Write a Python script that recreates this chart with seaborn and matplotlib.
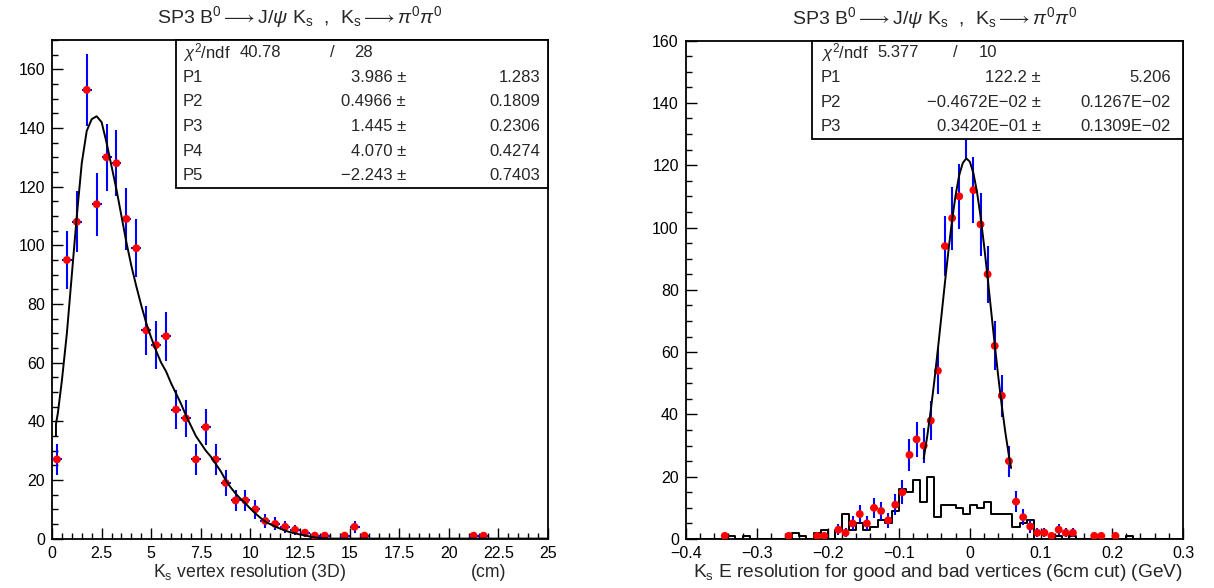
import numpy as np
import pandas as pd
import matplotlib
matplotlib.use("Agg")
import matplotlib.pyplot as plt
from matplotlib.patches import Rectangle
from matplotlib.ticker import MultipleLocator, FixedLocator, FixedFormatter
import seaborn as sns

# ---------------- data ----------------
# Left: Ks vertex resolution (3D), bin width 0.5 cm
left_x = [0.25, 0.75, 1.25, 1.75, 2.25, 2.75, 3.25, 3.75, 4.25, 4.75, 5.25, 5.75,
          6.25, 6.75, 7.25, 7.75, 8.25, 8.75, 9.25, 9.75, 10.25, 10.75, 11.25,
          11.75, 12.25, 12.75, 13.25, 13.75, 14.75, 15.25, 15.75, 21.25, 21.75]
left_n = [27, 95, 108, 153, 114, 130, 128, 109, 99, 71, 66, 69,
          44, 41, 27, 38, 27, 19, 13, 13, 10, 6, 5,
          4, 3, 2, 1, 1, 1, 4, 1, 1, 1]
left_halfbin = 0.25

# Left fit curve
left_fit_x = [0.2, 0.2, 0.3, 0.5, 0.75, 1.0, 1.25, 1.5, 1.75, 2.0, 2.25, 2.5, 2.75,
              3.0, 3.25, 3.5, 3.75, 4.0, 4.25, 4.5, 4.75, 5.0, 5.25, 5.5, 5.75,
              6.0, 6.25, 6.5, 6.75, 7.0, 7.25, 7.5, 7.75, 8.0, 8.25, 8.5, 8.75,
              9.0, 9.25, 9.5, 9.75, 10.0, 10.25, 10.5, 10.75, 11.0, 11.25, 11.5,
              11.75, 12.0, 12.25, 12.5, 12.75, 13.0, 13.25, 13.5, 14.0, 25.0]
left_fit_y = [35, 39, 43, 54, 70, 90, 110, 128, 139, 143, 144, 142, 135,
              127, 119, 110, 101, 93, 86, 79.5, 73.5, 68.5, 64, 60, 57,
              53, 49.5, 46, 42, 38.5, 35, 32.5, 30, 28, 25.5, 23, 20,
              17.5, 15.4, 13.6, 12, 10.2, 8.6, 7.1, 5.8, 4.9, 4.1, 3.4,
              2.7, 2.2, 1.8, 1.4, 1.1, 0.7, 0.4, 0.2, 0.0, 0.0]

# Right: Ks E resolution, bin width 0.01 GeV (points)
right_x = [-0.345, -0.255, -0.215, -0.205, -0.185, -0.175, -0.165, -0.155, -0.145,
           -0.135, -0.125, -0.115, -0.105, -0.095, -0.085, -0.075, -0.065, -0.055,
           -0.045, -0.035, -0.025, -0.015, -0.005, 0.005, 0.015, 0.025, 0.035,
           0.045, 0.055, 0.065, 0.075, 0.085, 0.095, 0.105, 0.115, 0.125, 0.135,
           0.145, 0.175, 0.185, 0.205]
right_n = [1, 1, 1, 1, 3, 2, 5, 8, 5,
           10, 9, 6, 11, 15, 27, 32, 30, 38,
           54, 94, 103, 110, 134, 112, 101, 85, 62,
           46, 25, 12, 7, 4, 2, 2, 1, 3, 2,
           2, 1, 1, 1]
right_halfbin = 0.005

# Right: bad-vertex histogram (black step line)
hist_x = [-0.335, -0.315, -0.245, -0.235, -0.215, -0.205, -0.185, -0.175, -0.165,
          -0.155, -0.145, -0.135, -0.125, -0.115, -0.105, -0.095, -0.085, -0.075,
          -0.065, -0.055, -0.045, -0.035, -0.025, -0.015, -0.005, 0.005, 0.015,
          0.025, 0.035, 0.045, 0.055, 0.065, 0.075, 0.085, 0.125, 0.145, 0.225]
hist_n = [1, 1, 2, 1, 2, 3, 3, 8, 3,
          5, 3, 4, 6, 5, 9, 16, 15, 19,
          12, 20, 7, 11, 11, 10, 8, 11, 10,
          12, 8, 8, 8, 4, 5, 6, 1, 1, 1]

# Right Gaussian fit curve (values read / from displayed fit)
right_fit_x = [-0.065, -0.060, -0.055, -0.050, -0.045, -0.040, -0.035, -0.030,
               -0.025, -0.020, -0.015, -0.010, -0.005, 0.000, 0.005, 0.010,
               0.015, 0.020, 0.025, 0.030, 0.035, 0.040, 0.045, 0.050, 0.055,
               0.058]
right_fit_y = [25.8, 33.0, 41.4, 50.8, 61.0, 71.7, 82.5, 92.9,
               102.4, 110.5, 116.8, 120.7, 122.2, 121.1, 117.4, 111.5,
               103.6, 94.2, 83.9, 73.1, 62.4, 52.1, 42.6, 34.1, 26.7,
               22.8]

title_txt = r"SP3 B$^{0}$$\longrightarrow$J/$\psi$ K$_{\rm s}$  ,  K$_{\rm s}$$\longrightarrow$$\pi^{0}\pi^{0}$"
left_stats = [("P1", "3.986 \u00b1", "1.283"),
              ("P2", "0.4966 \u00b1", "0.1809"),
              ("P3", "1.445 \u00b1", "0.2306"),
              ("P4", "4.070 \u00b1", "0.4274"),
              ("P5", "\u22122.243 \u00b1", "0.7403")]
right_stats = [("P1", "122.2 \u00b1", "5.206"),
               ("P2", "\u22120.4672E\u221202 \u00b1", "0.1267E\u221202"),
               ("P3", "0.3420E\u221201 \u00b1", "0.1309E\u221202")]

# ---------------- style ----------------
sns.set_theme(style="white")
plt.rcParams["font.family"] = ["Liberation Sans", "DejaVu Sans"]
plt.rcParams["mathtext.fontset"] = "custom"
plt.rcParams["mathtext.rm"] = "Liberation Sans"
plt.rcParams["mathtext.it"] = "Liberation Sans:italic"
plt.rcParams["axes.linewidth"] = 1.3
plt.rcParams["axes.edgecolor"] = "black"

W, H = 1214, 588
fig = plt.figure(figsize=(W / 100, H / 100), dpi=100)
fig.patch.set_facecolor("white")

ax1 = fig.add_axes([52 / W, 1 - 538.6 / H, 496 / W, 498.6 / H])
ax2 = fig.add_axes([685.7 / W, 1 - 539 / H, 497.3 / W, 498.4 / H])

ldf = pd.DataFrame({"x": left_x, "n": left_n})
rdf = pd.DataFrame({"x": right_x, "n": right_n})


def draw_points(ax, df, halfbin):
    ax.errorbar(df["x"], df["n"], yerr=np.sqrt(df["n"]), xerr=halfbin,
                fmt="none", ecolor=(0, 0, 1), elinewidth=1.5, capsize=0, zorder=3)
    sns.scatterplot(data=df, x="x", y="n", ax=ax, color=(1, 0, 0), s=32,
                    edgecolor="none", linewidth=0, zorder=4, legend=False)


# Left panel
draw_points(ax1, ldf, left_halfbin)
sns.lineplot(x=left_fit_x, y=left_fit_y, ax=ax1, color="black", linewidth=1.4,
             sort=False, estimator=None, zorder=5)
ax1.set_xlim(0, 25)
ax1.set_ylim(0, 170)

# Right panel
sns.histplot(x=hist_x, weights=hist_n, bins=70, binrange=(-0.4, 0.3),
             element="step", fill=False, color="black", linewidth=1.4, ax=ax2, zorder=2)
draw_points(ax2, rdf, right_halfbin)
sns.lineplot(x=right_fit_x, y=right_fit_y, ax=ax2, color="black", linewidth=1.4,
             sort=False, estimator=None, zorder=5)
ax2.set_xlim(-0.4, 0.3)
ax2.set_ylim(0, 160)

for ax in (ax1, ax2):
    ax.set_xlabel("")
    ax.set_ylabel("")
    ax.set_facecolor("white")
    for s in ax.spines.values():
        s.set_visible(True)
        s.set_color("black")
        s.set_linewidth(1.3)
    ax.yaxis.set_major_locator(MultipleLocator(20))
    ax.yaxis.set_minor_locator(MultipleLocator(5))
    ax.tick_params(which="both", direction="in", left=True, bottom=True,
                   right=False, top=False, labelsize=11.5, colors="black")
    ax.tick_params(which="major", length=8, width=1.0, pad=5)
    ax.tick_params(which="minor", length=4, width=1.0)
    ax.set_title(title_txt, fontsize=14, pad=12)
    ax.grid(False)

ax1.xaxis.set_major_locator(FixedLocator([0, 2.5, 5, 7.5, 10, 12.5, 15, 17.5, 20, 22.5, 25]))
ax1.xaxis.set_major_formatter(FixedFormatter(["0", "2.5", "5", "7.5", "10", "12.5", "15",
                                              "17.5", "20", "22.5", "25"]))
ax1.xaxis.set_minor_locator(MultipleLocator(0.5))

ax2.xaxis.set_major_locator(FixedLocator([-0.4, -0.3, -0.2, -0.1, 0, 0.1, 0.2, 0.3]))
ax2.xaxis.set_major_formatter(FixedFormatter(["\u22120.4", "\u22120.3", "\u22120.2", "\u22120.1",
                                              "0", "0.1", "0.2", "0.3"]))
ax2.xaxis.set_minor_locator(MultipleLocator(0.02))

# x labels
ax1.text(0.204, -0.068, r"K$_{\rm s}$ vertex resolution (3D)", transform=ax1.transAxes,
         ha="left", va="center", fontsize=12.7)
ax1.text(0.916, -0.068, "(cm)", transform=ax1.transAxes, ha="right", va="center", fontsize=12.7)
ax2.text(1.0, -0.068, r"K$_{\rm s}$ E resolution for good and bad vertices (6cm cut) (GeV)",
         transform=ax2.transAxes, ha="right", va="center", fontsize=13.8)


def stats_box(ax, x0, y0, rows, chi_val, ndf, xs, fs=12):
    ax.add_patch(Rectangle((x0, y0), 1 - x0, 1 - y0, transform=ax.transAxes,
                           facecolor="white", edgecolor="black", linewidth=1.3,
                           clip_on=False, zorder=10))
    nrow = len(rows) + 1
    h = (1 - y0) / nrow
    xn, xchi, xsl, xndf, xval, xerr = xs
    yc = 1 - h / 2
    kw = dict(transform=ax.transAxes, va="center", fontsize=fs, zorder=11)
    ax.text(xn, yc, r"$\chi^2$/ndf", ha="left", **kw)
    ax.text(xchi, yc, chi_val, ha="left", **kw)
    ax.text(xsl, yc, "/", ha="center", **kw)
    ax.text(xndf, yc, ndf, ha="center", **kw)
    for i, (name, val, err) in enumerate(rows):
        y = 1 - h * (i + 1.5)
        ax.text(xn, y, name, ha="left", **kw)
        ax.text(xval, y, val, ha="right", **kw)
        ax.text(xerr, y, err, ha="right", **kw)


def fx(ax_left, ax_w, px):
    return (px - ax_left) / ax_w


stats_box(ax1, 0.25, 0.703, left_stats, "40.78", "28",
          (fx(52, 496, 183), fx(52, 496, 240), fx(52, 496, 332), fx(52, 496, 363),
           fx(52, 496, 406), fx(52, 496, 540)))
stats_box(ax2, 0.254, 0.8026, right_stats, "5.377", "10",
          (fx(685.7, 497.3, 821), fx(685.7, 497.3, 877), fx(685.7, 497.3, 955),
           fx(685.7, 497.3, 988), fx(685.7, 497.3, 1041), fx(685.7, 497.3, 1171)))

fig.savefig("out.png", dpi=100, facecolor="white")
